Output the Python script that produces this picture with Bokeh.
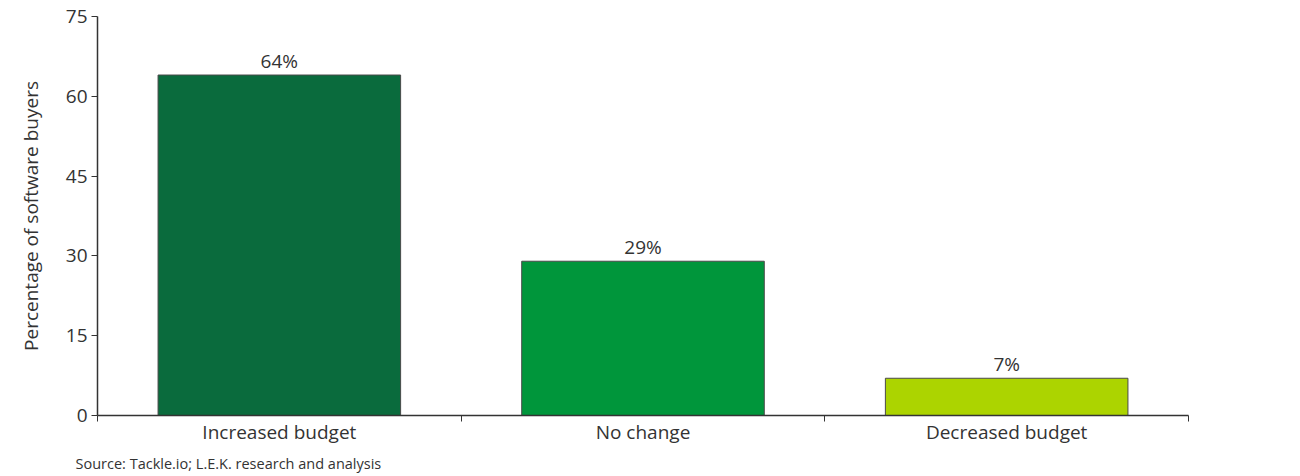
from bokeh.plotting import figure
from bokeh.models import Range1d, FixedTicker, ColumnDataSource, Title, LabelSet
from bokeh.core.properties import value
from bokeh.embed import file_html
from bokeh.resources import INLINE

categories = ["Increased budget", "No change", "Decreased budget"]
values = [64, 29, 7]
bar_labels = ["64%", "29%", "7%"]
colors = ["#0a6b3d", "#00963b", "#acd400"]
y_ticks = [0, 15, 30, 45, 60, 75]

FONT = "Open Sans"
TXT = "#333333"

x_centers = [i + 0.5 for i in range(len(categories))]
src = ColumnDataSource(dict(x=x_centers, top=values, color=colors, label=bar_labels))

p = figure(width=1300, height=476, output_backend="svg", toolbar_location=None,
           x_range=Range1d(0, 3), y_range=Range1d(0, 75),
           min_border_left=97, min_border_right=112, min_border_top=16, min_border_bottom=61)
p.outline_line_color = None
p.grid.grid_line_color = None
p.background_fill_color = "white"

p.vbar(x="x", top="top", width=0.667, bottom=0, fill_color="color",
       line_color="#4a4a4a", line_width=1, source=src)

labels = LabelSet(x="x", y="top", text="label", source=src, text_align="center",
                  text_baseline="bottom", y_offset=1, text_font=value(FONT),
                  text_font_size="19px", text_color=TXT)
p.add_layout(labels)

# x axis
p.xaxis.ticker = FixedTicker(ticks=x_centers, minor_ticks=[0, 1, 2, 3])
p.xaxis.major_label_overrides = {x: c for x, c in zip(x_centers, categories)}
p.xaxis.major_tick_line_color = None
p.xaxis.minor_tick_line_color = TXT
p.xaxis.minor_tick_out = 6
p.xaxis.minor_tick_in = 0
p.xaxis.axis_line_color = TXT
p.xaxis.axis_line_width = 1.5
p.xaxis.major_label_text_font = FONT
p.xaxis.major_label_text_font_size = "19px"
p.xaxis.major_label_text_color = TXT
p.xaxis.major_label_standoff = -3

# y axis
p.yaxis.ticker = FixedTicker(ticks=y_ticks)
p.yaxis.minor_tick_line_color = None
p.yaxis.major_tick_line_color = TXT
p.yaxis.major_tick_out = 6
p.yaxis.major_tick_in = 0
p.yaxis.axis_line_color = TXT
p.yaxis.axis_line_width = 1.5
p.yaxis.major_label_text_font = FONT
p.yaxis.major_label_text_font_size = "19px"
p.yaxis.major_label_text_color = TXT
p.yaxis.major_label_standoff = 4
p.yaxis.axis_label = "Percentage of software buyers"
p.yaxis.axis_label_text_font = FONT
p.yaxis.axis_label_text_font_size = "19px"
p.yaxis.axis_label_text_font_style = "normal"
p.yaxis.axis_label_text_color = TXT
p.yaxis.axis_label_standoff = 19

p.add_layout(Title(text="Source: Tackle.io; L.E.K. research and analysis", align="left",
                   offset=-22, standoff=8, text_font=FONT, text_font_size="14.5px",
                   text_font_style="normal", text_color=TXT), "below")

open("out.html", "w").write(file_html(p, INLINE))
